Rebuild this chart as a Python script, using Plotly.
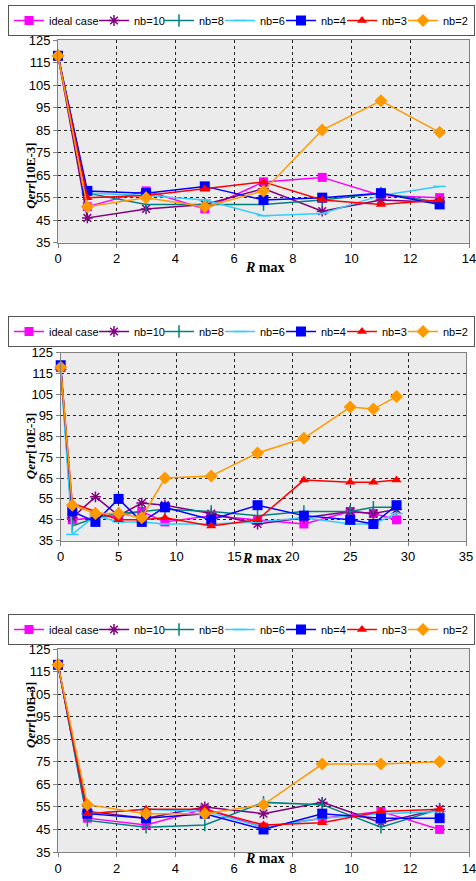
import plotly.graph_objects as go

# ---------------- data ----------------
series_names = ["ideal case", "nb=10", "nb=8", "nb=6", "nb=4", "nb=3", "nb=2"]

x1 = [0, 1, 3, 5, 7, 9, 11, 13]
p1_ideal = [118, 51, 58, 50, 62, 64, 56, 55]
p1_nb10 = [118, 46, 50, 52, 59, 49, 54, 53]
p1_nb8 = [118, 57, 52, 52, 52, 54, 57, 53]
p1_nb6 = [118, 57, 56, 54, 47, 48, 56, 60]
p1_nb4 = [118, 58, 57, 60, 54, 55, 57, 52]
p1_nb3 = [118, 55, 56, 59, 62, 54, 52, 54]
p1_nb2 = [118, 51, 55, 51, 58, 85, 98, 84]

x2 = [0, 1, 3, 5, 7, 9, 13, 17, 21, 25, 27, 29]
p2_ideal = [118, 45, 46, 47, 49, 44, 47, 45, 43, 49, 48, 45]
p2_nb10 = [118, 46, 56, 47, 53, 52, 48, 43, 46, 49, 48, 50]
p2_nb8 = [118, 42, 46, 48, 49, 50, 49, 47, 49, 49, 51, 51]
p2_nb6 = [117, 38, 47, 44, 44, 43, 43, 44, 46, 43, 43, 48]
p2_nb4 = [119, 49, 44, 55, 44, 51, 45, 52, 47, 45, 43, 52]
p2_nb3 = [117, 53, 49, 45, 45, 46, 42, 45, 64, 63, 63, 64]
p2_nb2 = [118, 52, 48, 48, 46, 65, 66, 77, 84, 99, 98, 104]

x3 = [0, 1, 3, 5, 7, 9, 11, 13]
p3_ideal = [118, 50, 47, 54, 46, 50, 53, 45]
p3_nb10 = [118, 53, 50, 55, 52, 57, 48, 54]
p3_nb8 = [118, 49, 46, 47, 57, 56, 46, 54]
p3_nb6 = [118, 52, 54, 53, 46, 50, 52, 53]
p3_nb4 = [118, 52, 50, 52, 45, 52, 50, 50]
p3_nb3 = [118, 52, 54, 54, 47, 48, 53, 54]
p3_nb2 = [118, 56, 52, 52, 56, 74, 74, 75]

y_ticks = [35, 45, 55, 65, 75, 85, 95, 105, 115, 125]

# ---------------- styles ----------------
colors = ["#FF00FF", "#800080", "#008080", "#33CCFF", "#0000FF", "#FF0000", "#FF9900"]
symbols = ["square", "asterisk-open", "line-ns-open", "line-ew-open", "square", "triangle-up", "diamond"]
sizes = [9, 9, 9, 9, 10, 9, 10]
legend_widths = [40, 20, 16, 16, 16, 16, 26]

panels = [
    (x1, [p1_ideal, p1_nb10, p1_nb8, p1_nb6, p1_nb4, p1_nb3, p1_nb2]),
    (x2, [p2_ideal, p2_nb10, p2_nb8, p2_nb6, p2_nb4, p2_nb3, p2_nb2]),
    (x3, [p3_ideal, p3_nb10, p3_nb8, p3_nb6, p3_nb4, p3_nb3, p3_nb2]),
]

W, H = 476, 881
fig = go.Figure()

for pi, (xs, ys_list) in enumerate(panels):
    sfx = "" if pi == 0 else str(pi + 1)
    for si, ys in enumerate(ys_list):
        col = colors[si]
        sym = symbols[si]
        open_sym = sym.endswith("-open")
        fig.add_trace(go.Scatter(
            x=xs, y=ys, name=series_names[si], mode="lines+markers",
            xaxis="x" + sfx, yaxis="y" + sfx, legend="legend" + sfx,
            line=dict(color=col, width=1.5),
            marker=dict(symbol=sym, size=sizes[si], color=col,
                        line=dict(color=col, width=1.5 if open_sym else 0)),
            cliponaxis=False,
            legendwidth=legend_widths[si],
        ))

# panel geometry in pixels (left, right, top, bottom)
geo = [(58, 469, 40, 242.7), (60.7, 466, 352.7, 540.7), (58, 469, 649, 852)]
xranges = [[0, 14], [0, 35], [0, 14]]
xdticks = [2, 5, 2]
legend_tops = [5, 316, 614]
xtitle_pos = [(265, 258), (262, 558), (265, 868)]

layout = dict(width=W, height=H, margin=dict(l=0, r=0, t=0, b=0, autoexpand=False),
              paper_bgcolor="white", plot_bgcolor="#EBEBEB", showlegend=True,
              font=dict(family="Arial, Liberation Sans", size=13, color="black"))
annotations = []
for pi in range(3):
    sfx = "" if pi == 0 else str(pi + 1)
    l, r, t, b = geo[pi]
    layout["xaxis" + sfx] = dict(
        domain=[l / W, r / W], range=xranges[pi], dtick=xdticks[pi], tick0=0,
        anchor="y" + sfx, showline=True, linecolor="#808080", linewidth=1, mirror=True,
        showgrid=True, gridcolor="#222222", griddash="dot", gridwidth=1,
        zeroline=False, ticks="outside", ticklen=4, tickcolor="#808080",
        tickfont=dict(size=13, color="black"), automargin=False,
        ticklabeloverflow="allow")
    layout["yaxis" + sfx] = dict(
        domain=[1 - b / H, 1 - t / H], range=[35, 125], tickvals=y_ticks,
        anchor="x" + sfx, showline=True, linecolor="#808080", linewidth=1, mirror=True,
        showgrid=True, gridcolor="#222222", griddash="dot", gridwidth=1,
        zeroline=False, ticks="outside", ticklen=4, tickcolor="#808080",
        tickfont=dict(size=13, color="black"), automargin=False,
        ticklabeloverflow="allow")
    layout["legend" + sfx] = dict(
        orientation="h", x=8 / W, xanchor="left", y=1 - legend_tops[pi] / H, yanchor="top",
        xref="paper", yref="paper",
        bordercolor="#555555", borderwidth=1, bgcolor="white",
        font=dict(size=11, family="Arial, Liberation Sans", color="black"),
        itemwidth=30, tracegroupgap=0, entrywidthmode="pixels")
    annotations.append(dict(
        text="<b><i>Qerr</i>[10E-3]</b>", textangle=-90,
        x=21 / W, y=1 - ((t + b) / 2) / H, xref="paper", yref="paper",
        showarrow=False, font=dict(family="Liberation Serif, DejaVu Serif", size=13, color="black")))
    xt, yt = xtitle_pos[pi]
    annotations.append(dict(
        text="<b><i>R</i> max</b>", x=xt / W, y=1 - yt / H, xref="paper", yref="paper",
        showarrow=False, font=dict(family="Liberation Serif, DejaVu Serif", size=14, color="black")))

layout["annotations"] = annotations
fig.update_layout(**layout)
fig.write_html(
    "out.html",
    config={"displayModeBar": False},
    post_script="document.body.style.margin='0';document.body.style.overflow='hidden';",
)
